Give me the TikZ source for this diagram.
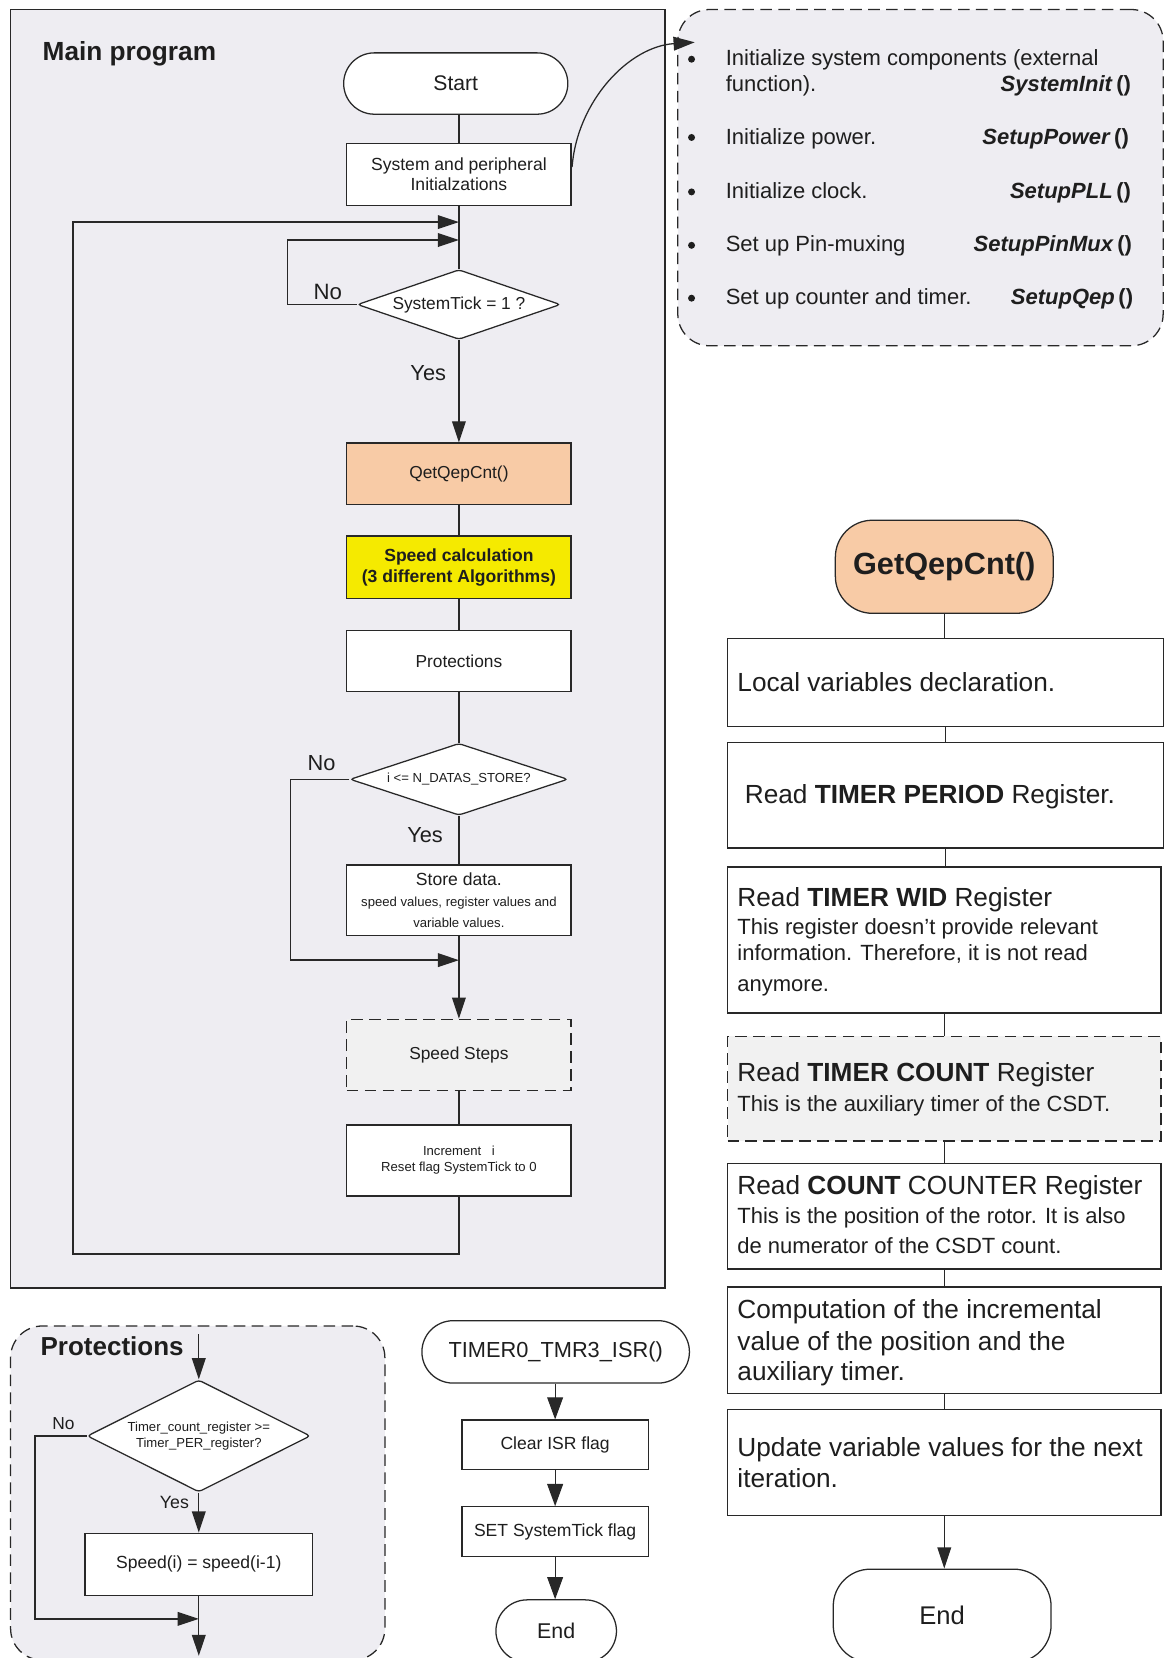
\documentclass[tikz,border=0pt]{standalone}
\usepackage{fontspec}
\setmainfont{Liberation Sans}
\usetikzlibrary{arrows.meta,shapes.geometric}
\definecolor{panel}{RGB}{238,237,242}
\definecolor{peach}{RGB}{248,203,166}
\definecolor{lemon}{RGB}{245,234,0}
\definecolor{stepgray}{RGB}{241,241,241}
\definecolor{linec}{RGB}{40,40,40}
\definecolor{txt}{RGB}{30,30,30}
\newcommand{\setfs}[2]{\fontsize{#1pt}{#2pt}\selectfont}
\begin{document}
\begin{tikzpicture}[x=0.5pt,y=-0.5pt,
  wire/.style={draw=linec, line width=0.6pt},
  arr/.style={wire, -{Triangle[length=10pt,width=6.5pt]}},
  bigarr/.style={wire, -{Triangle[length=10.5pt,width=7.5pt]}},
  box/.style={wire, fill=white, inner sep=0pt, align=center, text=txt,
              minimum width=106pt, minimum height=29pt},
  term/.style={box, rounded corners=14.5pt},
  dec/.style={diamond, wire, fill=white, inner sep=0pt, align=center,
              text=txt, rounded corners=1.5pt},
  dashbox/.style={wire, dash pattern=on 5.5pt off 3pt},
  lbl/.style={inner sep=0pt, text=txt},
  ltxt/.style={inner sep=0pt, text=txt, anchor=base west},
  big/.style={ltxt, font=\setfs{12.4}{15}},
  small/.style={ltxt, font=\setfs{10.4}{12.5}},
  bul/.style={circle, fill=txt, inner sep=0pt, minimum size=3.3pt},
  fn/.style={inner sep=0pt, text=txt, anchor=base east, font=\bfseries\setfs{10.4}{12.5}},
]
\useasboundingbox (0,0) rectangle (1105,1568);

% ---------------- main program panel ----------------
\path[wire, fill=panel] (10,9) rectangle (629,1218);
\node[ltxt, font=\bfseries\setfs{12.4}{15}] (mainttl) at (40,57) {Main program};

\node[term, font=\setfs{10}{12}] (start) at (431,79) {Start};
\node[box, font=\setfs{8.3}{9.5}] (sysinit) at (434,165) {System and peripheral\\Initialzations};
\node[dec, aspect=2.9, minimum width=96pt, minimum height=33pt, font=\setfs{8.2}{10}] (tick) at (434,288) {SystemTick = 1 ?};
\node[lbl, font=\setfs{10.5}{12}] (no1) at (310,276) {No};
\node[lbl, font=\setfs{10.3}{12}] (yes1) at (405,353) {Yes};
\node[box, fill=peach, font=\setfs{8.2}{10}] (qet) at (434,448) {QetQepCnt()};
\node[box, fill=lemon, minimum height=29.5pt, font=\bfseries\setfs{8.3}{10}] (calc) at (434,536.5) {Speed calculation\\(3 different Algorithms)};
\node[box, font=\setfs{8.2}{10}] (prot) at (434,625) {Protections};
\node[dec, aspect=3, minimum width=103pt, minimum height=34pt, font=\setfs{6.2}{7.5}] (dstore) at (434,737) {i <= N\_DATAS\_STORE?};
\node[lbl, font=\setfs{10.3}{12}] (no2) at (304,722) {No};
\node[lbl, font=\setfs{10.3}{12}] (yes2) at (402,790) {Yes};
\node[box, minimum height=33.5pt, font=\setfs{6.2}{10}] (store) at (434,851.5) {{\setfs{8.3}{10}Store data.}\\speed values, register values and\\variable values.};
\node[box, dashbox, fill=stepgray, minimum height=33.5pt, font=\setfs{8.2}{10}] (steps) at (434,997.5) {Speed Steps};
\node[box, minimum height=33.5pt, font=\setfs{6.2}{7.5}] (incr) at (434,1097.5) {Increment\hspace{5pt}i\\Reset flag SystemTick to 0};

\coordinate (j1) at (434,210);
\coordinate (j2) at (434,227);
\coordinate (j3) at (434,908);
\draw[wire] (start.south -| sysinit.north) -- (sysinit.north);
\draw[wire] (sysinit.south) -- (tick.north);
\draw[arr] (incr.south) -- (434,1186) -| (69,210) -- (j1);
\draw[arr] (tick.west) -- (272,288) |- (j2);
\draw[arr] (tick.south) -- (qet.north);
\draw[wire] (qet.south) -- (calc.north);
\draw[wire] (calc.south) -- (prot.north);
\draw[wire] (prot.south) -- (dstore.north);
\draw[wire] (dstore.south) -- (store.north);
\draw[arr] (store.south) -- (steps.north);
\draw[arr] (dstore.west) -- (275,737) |- (j3);
\draw[wire] (steps.south) -- (incr.north);

% ---------------- initialisation details ----------------
\node[dashbox, fill=panel, rounded corners=15pt, minimum width=229.5pt, minimum height=159pt, inner sep=0pt] (initbox) at (870.5,168) {};
\node[bul] (d1) at (654,56) {};
\node[small] (b1) at (686,61.5) {Initialize system components (external};
\node[small] (b1b) at (686,86.5) {function).};
\node[fn] (f1) at (1070,86.5) {\textit{SystemInit}\,()};
\node[bul] (d2) at (654,130) {};
\node[small] (b2) at (686,136.5) {Initialize power.};
\node[fn] (f2) at (1068,136.5) {\textit{SetupPower}\,()};
\node[bul] (d3) at (654,181.5) {};
\node[small] (b3) at (686,187.5) {Initialize clock.};
\node[fn] (f3) at (1070,187.5) {\textit{SetupPLL}\,()};
\node[bul] (d4) at (654,232) {};
\node[small] (b4) at (686,237.5) {Set up Pin-muxing};
\node[fn] (f4) at (1071,237.5) {\textit{SetupPinMux}\,()};
\node[bul] (d5) at (654,282) {};
\node[small] (b5) at (686,287.5) {Set up counter and timer.};
\node[fn] (f5) at (1072,287.5) {\textit{SetupQep}\,()};

\coordinate (cstart) at (541,158);
\coordinate (ctip) at (657,40);
\draw[arr] (cstart) .. controls (546,95) and (595,44) .. (ctip);

% ---------------- GetQepCnt() routine ----------------
\node[term, fill=peach, minimum width=103pt, minimum height=44pt, rounded corners=17.5pt, font=\bfseries\setfs{14.5}{17}] (getq) at (893,536) {GetQepCnt()};
\node[box, minimum width=206pt, minimum height=41.5pt] (loc) at (894,645.5) {};
\node[box, minimum width=206pt, minimum height=50pt] (per) at (894,752) {};
\node[box, minimum width=205pt, minimum height=69pt] (wid) at (893,889) {};
\node[box, dashbox, fill=stepgray, minimum width=205pt, minimum height=49.5pt] (cnt) at (893,1029.5) {};
\node[box, minimum width=205pt, minimum height=50pt] (cc) at (893,1150) {};
\node[box, minimum width=205pt, minimum height=50.5pt] (comp) at (893,1267.5) {};
\node[box, minimum width=205pt, minimum height=50pt] (upd) at (893,1383) {};
\node[term, minimum width=103pt, minimum height=44pt, rounded corners=17.5pt, font=\setfs{12.1}{14}] (end2) at (891,1528) {End};

\node[big] (t1) at (697,654) {Local variables declaration.};
\node[big] (t2) at (704,760) {Read \textbf{TIMER PERIOD} Register.};
\node[big] (t3) at (697,857) {Read \textbf{TIMER WID} Register};
\node[small] (t3a) at (697,883.5) {This register doesn’t provide relevant};
\node[small] (t3b) at (697,908.5) {information. Therefore, it is not read};
\node[small] (t3c) at (697,937.5) {anymore.};
\node[big] (t4) at (697,1023) {Read \textbf{TIMER COUNT} Register};
\node[small] (t4a) at (697,1051.5) {This is the auxiliary timer of the CSDT.};
\node[big] (t5) at (697,1130) {Read \textbf{COUNT} COUNTER Register};
\node[small] (t5a) at (697,1157.5) {This is the position of the rotor. It is also};
\node[small] (t5b) at (697,1185.5) {de numerator of the CSDT count.};
\node[big] (t6) at (697,1247) {Computation of the incremental};
\node[big] (t6a) at (697,1277) {value of the position and the};
\node[big] (t6b) at (697,1306) {auxiliary timer.};
\node[big] (t7) at (697,1377) {Update variable values for the next};
\node[big] (t7a) at (697,1407) {iteration.};

\draw[wire] (getq.south) -- (getq.south |- loc.north);
\draw[wire] (loc.south) -- (loc.south |- per.north);
\draw[wire] (per.south) -- (per.south |- wid.north);
\draw[wire] (wid.south) -- (wid.south |- cnt.north);
\draw[wire] (cnt.south) -- (cnt.south |- cc.north);
\draw[wire] (cc.south) -- (cc.south |- comp.north);
\draw[wire] (comp.south) -- (comp.south |- upd.north);
\draw[arr] (upd.south) -- (upd.south |- end2.north);

% ---------------- Protections detail ----------------
\node[dashbox, fill=panel, rounded corners=15pt, minimum width=177pt, minimum height=158pt, inner sep=0pt] (protpanel) at (187,1412) {};
\node[ltxt, font=\bfseries\setfs{12.3}{15}] (protttl) at (38,1282) {Protections};
\coordinate (ptop) at (188,1262);
\node[dec, aspect=2, minimum width=105.5pt, minimum height=53pt, font=\setfs{6.2}{7.5}] (pd) at (188,1358) {Timer\_count\_register >=\\Timer\_PER\_register?};
\node[lbl, font=\setfs{8.2}{10}] (no3) at (60,1346) {No};
\node[lbl, font=\setfs{8.4}{10}] (yes3) at (165,1421) {Yes};
\node[box, minimum width=107.5pt, minimum height=29.5pt, font=\setfs{8.3}{10}] (spd) at (188,1479.5) {Speed(i) = speed(i-1)};
\coordinate (pj) at (188,1531);
\coordinate (pend) at (188,1566);
\draw[arr] (ptop) -- (pd.north);
\draw[arr] (pd.south) -- (spd.north);
\draw[arr] (pd.west) -- (33,1358) |- (pj);
\draw[arr] (spd.south) -- (pend);

% ---------------- timer interrupt routine ----------------
\node[term, minimum width=126.5pt, minimum height=29.5pt, rounded corners=14.75pt, font=\setfs{10.3}{12}] (isr) at (525.5,1278.5) {TIMER0\_TMR3\_ISR()};
\node[box, minimum width=88pt, minimum height=23.5pt, font=\setfs{8.3}{10}] (clr) at (525,1366.5) {Clear ISR flag};
\node[box, minimum width=88pt, minimum height=23.5pt, font=\setfs{8.3}{10}] (settick) at (525,1448.5) {SET SystemTick flag};
\node[term, minimum width=57pt, minimum height=29.5pt, rounded corners=14.75pt, font=\setfs{10.1}{12}] (end1) at (526,1542.5) {End};
\draw[bigarr] (isr.south -| clr.north) -- (clr.north);
\draw[bigarr] (clr.south) -- (settick.north);
\draw[bigarr] (settick.south) -- (settick.south |- end1.north);
\end{tikzpicture}
\end{document}
